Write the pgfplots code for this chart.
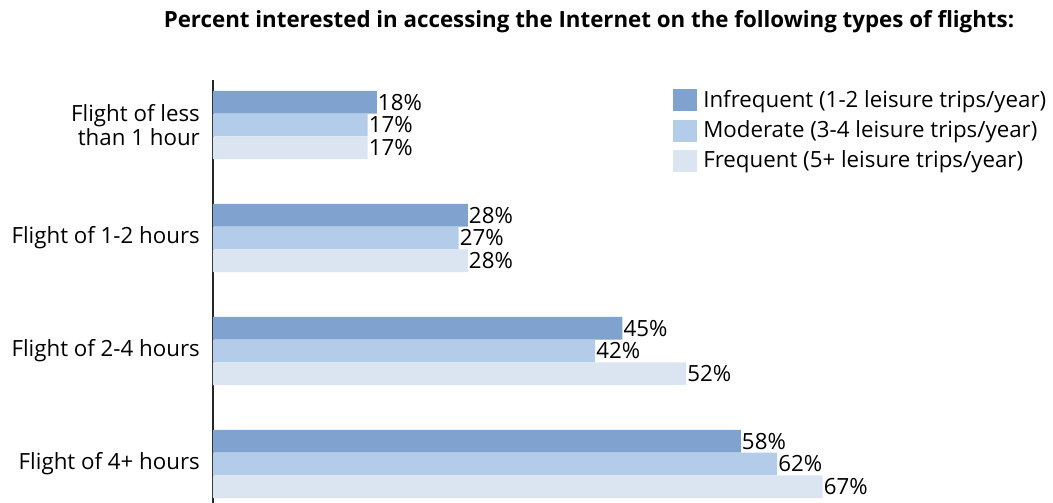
\documentclass[border=0pt]{standalone}
\usepackage{fontspec}
\setmainfont{Open Sans}
\usepackage{pgfplots}
\pgfplotsset{compat=1.18}
\definecolor{cA}{HTML}{7FA3CE}
\definecolor{cB}{HTML}{B3CCEA}
\definecolor{cC}{HTML}{DAE5F1}
\begin{document}
\fontsize{22.3}{24.5}\selectfont
\begin{tikzpicture}[x=1pt,y=1pt]
\useasboundingbox (0,0) rectangle (1053,503);
\node[font=\bfseries\fontsize{22.3}{24}\selectfont] at (589,481) {Percent interested in accessing the Internet on the following types of flights:};
\begin{axis}[
  at={(213pt,0pt)}, anchor=south west,
  scale only axis, width=728pt, height=423pt,
  xmin=0, xmax=80, ymin=0, ymax=423,
  axis x line=none, axis y line=left,
  y axis line style={-, line width=1.2pt, color=black!85},
  ytick={39,152,265,378},
  yticklabels={Flight of 4+ hours, Flight of 2-4 hours, Flight of 1-2 hours, {Flight of less\\than 1 hour}},
  yticklabel style={align=right, inner sep=0pt, xshift=-13pt, font=\fontsize{22.3}{24.5}\selectfont},
  major tick length=0pt,
  /pgf/number format/assume math mode=true,
  xbar, bar width=22.7pt,
  point meta=x,
  nodes near coords={\pgfmathprintnumber{\pgfplotspointmeta}\%},
  nodes near coords style={anchor=west, inner sep=1pt, font=\fontsize{22.3}{24}\selectfont},
  legend style={at={(0.632,0.981)}, anchor=north west, draw=none, fill=none, inner sep=0pt, row sep=5.8pt, font=\fontsize{22.3}{24}\selectfont},
  legend cell align=left,
  legend image code/.code={\fill[#1] (0pt,-11pt) rectangle (24pt,11pt);},
  /tikz/every odd column/.append style={column sep=4pt},
]
\addplot[fill=cA, draw=none, bar shift=22.7pt] coordinates {(58,39) (45,152) (28,265) (18,378)};
\addplot[fill=cB, draw=none, bar shift=0pt] coordinates {(62,39) (42,152) (27,265) (17,378)};
\addplot[fill=cC, draw=none, bar shift=-22.7pt] coordinates {(67,39) (52,152) (28,265) (17,378)};
\legend{Infrequent (1-2 leisure trips/year), Moderate (3-4 leisure trips/year), Frequent (5+ leisure trips/year)}
\end{axis}
\end{tikzpicture}
\end{document}
